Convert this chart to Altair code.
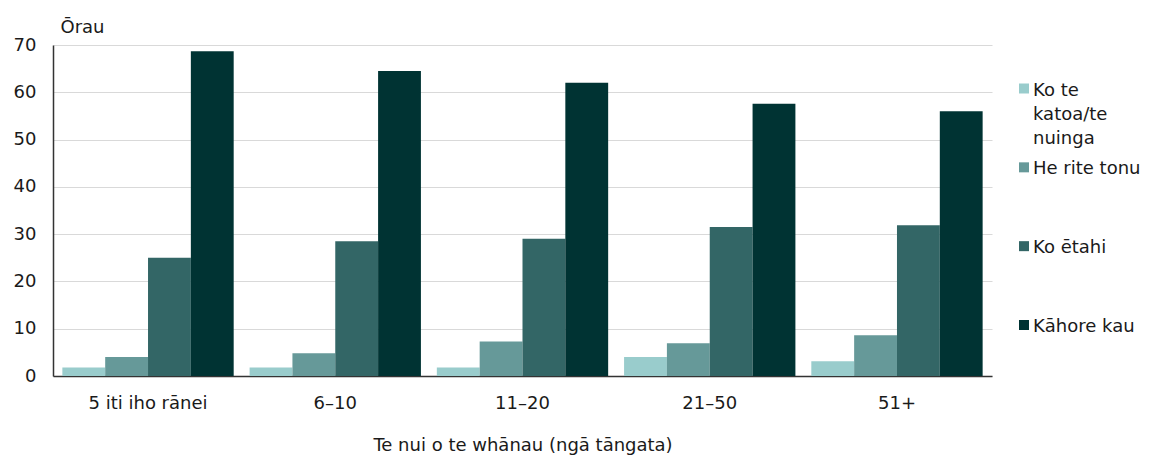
import textwrap
import altair as alt
import pandas as pd

groups = ["5 iti iho rānei", "6–10", "11–20", "21–50", "51+"]
series = ["Ko te katoa/te nuinga", "He rite tonu", "Ko ētahi", "Kāhore kau"]
colors = ["#99cccc", "#669999", "#336666", "#003333"]

v_katoa = [1.8, 1.8, 1.8, 4.0, 3.1]
v_rite = [4.0, 4.8, 7.3, 6.9, 8.6]
v_etahi = [25.0, 28.5, 29.0, 31.5, 31.9]
v_kahore = [68.7, 64.5, 62.0, 57.6, 56.0]

y_ticks = [0, 10, 20, 30, 40, 50, 60, 70]
y_title = "Ōrau"
x_title = "Te nui o te whānau (ngā tāngata)"

rows = []
for s, vals in zip(series, [v_katoa, v_rite, v_etahi, v_kahore]):
    for g, v in zip(groups, vals):
        rows.append({"group": g, "series": s, "value": v})
df = pd.DataFrame(rows)

leg = pd.DataFrame({
    "series": series,
    "label": ["\n".join(textwrap.wrap(s, 12)) for s in series],
})

W, H = 939, 331
FONT = "DejaVu Sans"
TXT = "#1a1a1a"

color = alt.Color("series:N", sort=series,
                  scale=alt.Scale(domain=series, range=colors), legend=None)

bars = alt.Chart(df).mark_bar(stroke=None).encode(
    x=alt.X("group:N", sort=groups, title=x_title,
            scale=alt.Scale(paddingInner=0.085, paddingOuter=0.05),
            axis=alt.Axis(labelAngle=0, ticks=False, tickSize=0, labelPadding=18,
                          titlePadding=24, domainColor="#333333", domainWidth=1.5,
                          grid=False, labelFont=FONT, titleFont=FONT,
                          labelFontSize=18, titleFontSize=18, labelColor=TXT,
                          titleColor=TXT, titleFontWeight="normal")),
    xOffset=alt.XOffset("series:N", sort=series,
                        scale=alt.Scale(paddingInner=0, paddingOuter=0)),
    y=alt.Y("value:Q", title=y_title,
            scale=alt.Scale(domain=[0, 70], nice=False),
            axis=alt.Axis(values=y_ticks, ticks=False, tickSize=0, labelPadding=17,
                          domainColor="#333333", domainWidth=1.5,
                          gridColor="#d9d9d9", gridWidth=1.2,
                          labelFont=FONT, titleFont=FONT,
                          labelFontSize=18, titleFontSize=18, labelColor=TXT,
                          titleColor=TXT, titleFontWeight="normal",
                          titleAngle=0, titleAlign="left", titleBaseline="alphabetic",
                          titleX=7, titleY=-13)),
    color=color,
)

ly = alt.Y("series:N", sort=series,
           scale=alt.Scale(domain=series, type="point", range=[43.5, 280], padding=0),
           axis=None)

leg_sq = alt.Chart(leg).mark_point(shape="square", filled=True, size=100, opacity=1).encode(
    x=alt.value(W + 32),
    y=ly,
    color=color,
)

leg_txt = alt.Chart(leg).mark_text(align="left", baseline="top", lineBreak="\n",
                                   lineHeight=24, dy=-7, font=FONT, fontSize=18,
                                   color=TXT).encode(
    x=alt.value(W + 41),
    y=ly,
    text="label:N",
)

chart = alt.layer(bars, leg_sq, leg_txt).resolve_scale(y="independent").properties(
    width=W, height=H, background="white",
    padding={"left": 5, "top": 10, "right": 5, "bottom": 5}
).configure_view(stroke=None)

chart.save("out.html", embed_options={"renderer": "svg", "actions": False})
